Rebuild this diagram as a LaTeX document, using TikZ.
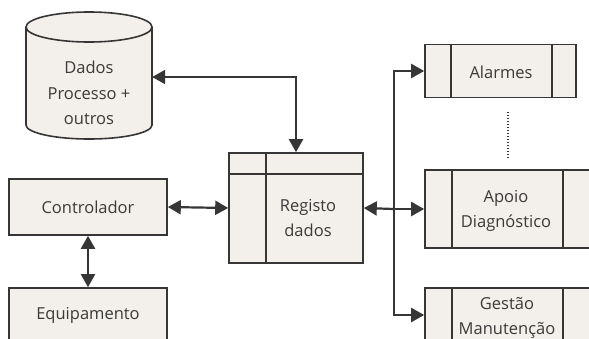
\documentclass[tikz,border=0pt]{standalone}
\usepackage{fontspec}
\setmainfont{Open Sans}
\usetikzlibrary{arrows.meta}
\definecolor{boxfill}{HTML}{F3EFEA}
\definecolor{ink}{HTML}{363636}
\definecolor{txt}{HTML}{3A3A3A}
\tikzset{
  blk/.style={draw=ink, line width=1.6pt, fill=boxfill, inner sep=0pt, text=txt,
    font=\fontsize{16.5}{25}\selectfont, align=center},
  lbl/.style={text=txt, font=\fontsize{16.5}{25}\selectfont, align=center, inner sep=0pt},
  conn/.style={draw=ink, line width=2.2pt, -{Triangle[length=13pt,width=14pt]}},
  conn2/.style={draw=ink, line width=2.2pt, {Triangle[length=13pt,width=14pt]}-{Triangle[length=13pt,width=14pt]}},
  sep/.style={draw=ink, line width=1.6pt},
}
\begin{document}
\begin{tikzpicture}[x=1pt,y=-1pt]
\useasboundingbox (0,0) rectangle (589,338);
\fill[white] (0,0) rectangle (589,338);
\clip (0,0) rectangle (589,338);
% cylinder
\filldraw[fill=boxfill, draw=ink, line width=1.6pt]
  (26,27) -- (26,125) arc[start angle=180, end angle=0, x radius=63, y radius=14]
  -- (152,27) arc[start angle=0, end angle=-180, x radius=63, y radius=15] -- cycle;
\draw[ink, line width=1.6pt] (26,27) arc[start angle=180, end angle=0, x radius=63, y radius=15];
\node[inner sep=0pt, minimum width=126pt, minimum height=127pt] (db) at (89,75.5) {};
\node[lbl, font=\fontsize{16.5}{25.5}\selectfont] (dbt) at (89,93) {Dados\\Processo +\\outros};
% Registo dados
\node[blk, minimum width=134pt, minimum height=110pt] (reg) at (296,208) {};
\draw[sep] (reg.north west |- 0,174) -- (reg.north east |- 0,174);
\draw[sep] (266,0 |- reg.north) -- (266,0 |- reg.south);
\node[lbl] (regt) at (308,218) {Registo\\dados};
% Controlador & Equipamento
\node[blk, minimum width=158pt, minimum height=56pt] (ctl) at (88,207) {Controlador};
\node[blk, minimum width=158pt, minimum height=62pt] (eq) at (88,319) {};
\node[lbl] (eqt) at (88,315) {Equipamento};
% right boxes
\node[blk, minimum width=151pt, minimum height=53pt] (alm) at (500.5,71) {};
\draw[sep] (451,0 |- alm.north) -- (451,0 |- alm.south);
\draw[sep] (552,0 |- alm.north) -- (552,0 |- alm.south);
\node[lbl] (almt) at (501,72) {Alarmes};
\node[blk, minimum width=170pt, minimum height=78pt] (apo) at (510,209) {};
\draw[sep] (452,0 |- apo.north) -- (452,0 |- apo.south);
\draw[sep] (563,0 |- apo.north) -- (563,0 |- apo.south);
\node[lbl] (apot) at (506,211) {Apoio\\Diagnóstico};
\node[blk, minimum width=170pt, minimum height=70pt] (ges) at (510,323) {};
\draw[sep] (452,0 |- ges.north) -- (452,0 |- ges.south);
\draw[sep] (563,0 |- ges.north) -- (563,0 |- ges.south);
\node[lbl] (gest) at (507,318) {Gestão\\Manutenção};
% dotted
\coordinate (d1) at (508,112);
\coordinate (d2) at (508,158);
\draw[ink, line width=1.4pt, dash pattern=on 1.2pt off 1.8pt] (d1) -- (d2);
% connectors
\draw[conn2] (db.east |- 0,77) -| (reg.north);
\draw[conn2] (ctl.east) -- (reg.west);
\draw[conn2] (ctl.south) -- (eq.north);
\coordinate (j) at (394,209);
\draw[conn] (j) -- (reg.east);
\draw[conn] (j) |- (alm.west);
\draw[conn] (j) -- (apo.west |- j);
\draw[conn] (j) |- (ges.west |- 0,315);
\end{tikzpicture}
\end{document}
